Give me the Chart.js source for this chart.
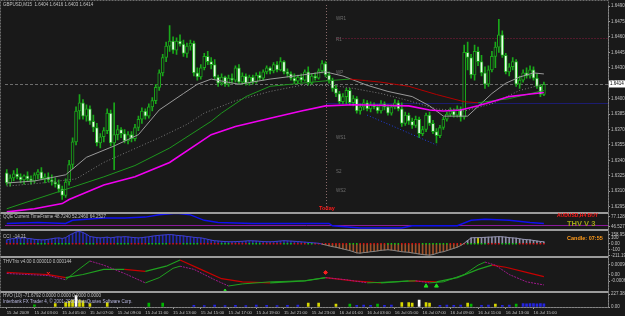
<!DOCTYPE html>
<html>
<head>
<meta charset="utf-8">
<title>GBPUSD M15</title>
<script src="https://cdn.jsdelivr.net/npm/chart.js@4.4.1/dist/chart.umd.min.js"></script>
<style>
  html, body { margin: 0; padding: 0; background: #191919; }
  #contenedor { width: 625px; height: 316px; }
</style>
</head>
<body>
<div id="contenedor"><canvas id="graficoVelas" width="625" height="316"></canvas></div>
<script>
// Velas GBPUSD M15, 15 Jul 01:00 -> 16 Jul 15:45
const simbolo = 'GBPUSD,M15';
const aperturas = [
  1.6328,1.6318,1.6323,1.6327,1.6324,1.6321,1.6325,1.6322,1.6320,1.6326,
  1.6329,1.6322,1.6324,1.6321,1.6319,1.6317,1.6312,1.6306,1.6319,1.6336,
  1.6358,1.6388,1.6396,1.6383,1.6390,1.6378,1.6372,1.6357,1.6363,1.6369,
  1.6386,1.6357,1.6365,1.6370,1.6366,1.6359,1.6365,1.6361,1.6372,1.6380,
  1.6388,1.6383,1.6392,1.6398,1.6411,1.6425,1.6440,1.6451,1.6456,1.6447,
  1.6456,1.6453,1.6444,1.6451,1.6454,1.6425,1.6421,1.6430,1.6441,1.6436,
  1.6433,1.6421,1.6415,1.6421,1.6414,1.6420,1.6418,1.6430,1.6416,1.6422,
  1.6415,1.6421,1.6416,1.6423,1.6420,1.6426,1.6430,1.6427,1.6433,1.6428,
  1.6436,1.6426,1.6424,1.6420,1.6417,1.6421,1.6418,1.6426,1.6415,1.6422,
  1.6420,1.6427,1.6434,1.6423,1.6418,1.6410,1.6405,1.6397,1.6402,1.6408,
  1.6396,1.6400,1.6388,1.6392,1.6396,1.6390,1.6394,1.6392,1.6388,1.6395,
  1.6392,1.6386,1.6392,1.6396,1.6390,1.6376,1.6384,1.6378,1.6374,1.6380,
  1.6366,1.6370,1.6384,1.6376,1.6368,1.6364,1.6372,1.6380,1.6385,1.6388,
  1.6384,1.6390,1.6382,1.6445,1.6440,1.6423,1.6446,1.6436,1.6425,1.6414,
  1.6428,1.6441,1.6450,1.6462,1.6442,1.6426,1.6431,1.6436,1.6414,1.6418,
  1.6425,1.6422,1.6428,1.6420,1.6412,1.6404
];
const maximos = [
  1.6331,1.6326,1.6330,1.6332,1.6327,1.6326,1.6329,1.6325,1.6328,1.6331,
  1.6333,1.6327,1.6328,1.6326,1.6323,1.6321,1.6315,1.6322,1.6340,1.6362,
  1.6392,1.6404,1.6399,1.6394,1.6393,1.6384,1.6376,1.6366,1.6372,1.6390,
  1.6389,1.6396,1.6374,1.6372,1.6370,1.6368,1.6368,1.6375,1.6383,1.6391,
  1.6390,1.6395,1.6401,1.6414,1.6428,1.6443,1.6455,1.6471,1.6460,1.6459,
  1.6462,1.6457,1.6454,1.6457,1.6456,1.6430,1.6433,1.6444,1.6446,1.6440,
  1.6438,1.6423,1.6424,1.6422,1.6423,1.6424,1.6432,1.6433,1.6425,1.6424,
  1.6423,1.6423,1.6425,1.6426,1.6428,1.6432,1.6431,1.6435,1.6436,1.6440,
  1.6437,1.6429,1.6426,1.6424,1.6423,1.6424,1.6428,1.6431,1.6424,1.6425,
  1.6429,1.6437,1.6436,1.6426,1.6420,1.6413,1.6407,1.6405,1.6410,1.6410,
  1.6403,1.6402,1.6395,1.6399,1.6398,1.6397,1.6396,1.6394,1.6398,1.6397,
  1.6394,1.6394,1.6399,1.6398,1.6396,1.6387,1.6386,1.6381,1.6383,1.6382,
  1.6373,1.6386,1.6387,1.6379,1.6371,1.6374,1.6382,1.6387,1.6391,1.6390,
  1.6393,1.6392,1.6452,1.6455,1.6443,1.6452,1.6450,1.6442,1.6431,1.6432,
  1.6446,1.6455,1.6477,1.6466,1.6444,1.6434,1.6440,1.6438,1.6422,1.6428,
  1.6430,1.6432,1.6431,1.6424,1.6414,1.6416
];
const minimos = [
  1.6316,1.6315,1.6320,1.6322,1.6318,1.6317,1.6320,1.6317,1.6318,1.6322,
  1.6321,1.6318,1.6319,1.6316,1.6314,1.6309,1.6302,1.6304,1.6316,1.6332,
  1.6355,1.6380,1.6380,1.6378,1.6375,1.6368,1.6354,1.6352,1.6358,1.6366,
  1.6354,1.6331,1.6360,1.6362,1.6357,1.6356,1.6358,1.6359,1.6369,1.6376,
  1.6380,1.6381,1.6388,1.6395,1.6408,1.6422,1.6436,1.6446,1.6444,1.6443,
  1.6451,1.6441,1.6440,1.6447,1.6422,1.6418,1.6419,1.6428,1.6433,1.6429,
  1.6419,1.6412,1.6413,1.6412,1.6412,1.6415,1.6416,1.6414,1.6414,1.6413,
  1.6413,1.6414,1.6415,1.6418,1.6418,1.6424,1.6424,1.6425,1.6426,1.6427,
  1.6424,1.6421,1.6418,1.6415,1.6415,1.6416,1.6417,1.6413,1.6414,1.6418,
  1.6419,1.6425,1.6421,1.6415,1.6407,1.6402,1.6395,1.6395,1.6395,1.6394,
  1.6393,1.6386,1.6385,1.6389,1.6388,1.6387,1.6390,1.6386,1.6386,1.6389,
  1.6384,1.6384,1.6390,1.6388,1.6373,1.6374,1.6375,1.6371,1.6372,1.6362,
  1.6364,1.6368,1.6374,1.6366,1.6357,1.6362,1.6370,1.6378,1.6383,1.6382,
  1.6382,1.6378,1.6380,1.6428,1.6420,1.6418,1.6432,1.6422,1.6410,1.6412,
  1.6426,1.6430,1.6445,1.6440,1.6424,1.6422,1.6428,1.6412,1.6410,1.6416,
  1.6420,1.6420,1.6418,1.6410,1.6402,1.6403
];
const cierres = [
  1.6318,1.6323,1.6327,1.6324,1.6321,1.6325,1.6322,1.6320,1.6326,1.6329,
  1.6322,1.6324,1.6321,1.6319,1.6317,1.6312,1.6306,1.6319,1.6336,1.6358,
  1.6388,1.6396,1.6383,1.6390,1.6378,1.6372,1.6357,1.6363,1.6369,1.6386,
  1.6357,1.6365,1.6370,1.6366,1.6359,1.6365,1.6361,1.6372,1.6380,1.6388,
  1.6383,1.6392,1.6398,1.6411,1.6425,1.6440,1.6451,1.6456,1.6447,1.6456,
  1.6453,1.6444,1.6451,1.6454,1.6425,1.6421,1.6430,1.6441,1.6436,1.6433,
  1.6421,1.6415,1.6421,1.6414,1.6420,1.6418,1.6430,1.6416,1.6422,1.6415,
  1.6421,1.6416,1.6423,1.6420,1.6426,1.6430,1.6427,1.6433,1.6428,1.6436,
  1.6426,1.6424,1.6420,1.6417,1.6421,1.6418,1.6426,1.6415,1.6422,1.6420,
  1.6427,1.6434,1.6423,1.6418,1.6410,1.6405,1.6397,1.6402,1.6408,1.6396,
  1.6400,1.6388,1.6392,1.6396,1.6390,1.6394,1.6392,1.6388,1.6395,1.6392,
  1.6386,1.6392,1.6396,1.6390,1.6376,1.6384,1.6378,1.6374,1.6380,1.6366,
  1.6370,1.6384,1.6376,1.6368,1.6364,1.6372,1.6380,1.6385,1.6388,1.6384,
  1.6390,1.6382,1.6445,1.6440,1.6423,1.6446,1.6436,1.6425,1.6414,1.6428,
  1.6441,1.6450,1.6462,1.6442,1.6426,1.6431,1.6436,1.6414,1.6418,1.6425,
  1.6422,1.6428,1.6420,1.6412,1.6404,1.6414
];

// Eje de tiempo: una etiqueta cada 8 velas (2 horas)
const etiquetasTiempo = [
  '15 Jul 2009','15 Jul 03:00','15 Jul 05:00','15 Jul 07:00','15 Jul 09:00',
  '15 Jul 11:00','15 Jul 13:00','15 Jul 15:00','15 Jul 17:00','15 Jul 19:00',
  '15 Jul 21:00','15 Jul 23:00','16 Jul 01:00','16 Jul 03:00','16 Jul 05:00',
  '16 Jul 07:00','16 Jul 09:00','16 Jul 11:00','16 Jul 13:00','16 Jul 15:00'
];
const pasoEtiquetas = 8;
const totalHuecos = 174;     // velas que caben en la ventana
const indiceHoy = 92;        // 16 Jul 00:00

// Eje de precios
const ticksPrecio = [1.6490,1.6475,1.6460,1.6445,1.6430,1.6415,1.6400,1.6385,1.6370,1.6355,1.6340,1.6325,1.6310,1.6295];

// Medias moviles (indice de vela / valor)
const mmLentaIdx = [0,8,16,18,28,37,47,59,66,76,85,92,100,116,122,126,131,136,141,145,150,155];
const mmLenta = [1.6290,1.6293,1.6298,1.6302,1.6316,1.6324,1.6338,1.6365,1.6373,1.6381,1.6388,1.6393,1.6394,1.6393,1.6389,1.6388,1.6389,1.6393,1.6398,1.6402,1.6404,1.6406];
const mmColorIdx = [0,9,19,28,37,47,59,62,69,76,82,91,99,108,116,124,132,136,145,155];
const mmColor = [1.6293,1.6303,1.6314,1.6324,1.6335,1.6352,1.6378,1.6386,1.6402,1.6412,1.6414,1.6417,1.6419,1.6416,1.6412,1.6404,1.6397,1.6396,1.6400,1.6408];
const gris1Idx = [0,8,17,23,31,38,44,51,55,59,67,76,83,92,97,104,110,117,122,126,133,140,144,148,152,155];
const gris1 = [1.6318,1.6320,1.6326,1.6343,1.6354,1.6365,1.6389,1.6405,1.6414,1.6419,1.6414,1.6419,1.6422,1.6426,1.6422,1.6413,1.6407,1.6402,1.6393,1.6383,1.6383,1.6405,1.6415,1.6421,1.6425,1.6424];
const gris2Idx = [0,10,20,28,36,44,52,57,66,76,85,94,100,108,116,124,132,140,148,155];
const gris2 = [1.6315,1.6318,1.6322,1.6338,1.6350,1.6362,1.6375,1.6386,1.6398,1.6407,1.6413,1.6413,1.6410,1.6405,1.6398,1.6390,1.6388,1.6395,1.6408,1.6414];
const tendenciaIdx = [104,124];
const tendencia = [1.6384,1.6355];

// Niveles y pivotes
const nivelR1 = 1.6459;
const nivelPivote = 1.6396;
const nombresPivote = ['WR1','R1','WP','WS1','S2','WS2'];
const valoresPivote = [1.6477,1.6457,1.6425,1.6362,1.6329,1.6310];

// QQE
const qqeIdx = [0,9,17,19,28,34,40,44,49,53,57,61,71,88,93,94,102,114,117,130,134,138,145,151,155];
const qqe = [56,59,56,66,73,73,76,83,88,83,66,59,56,56,56,49,42,42,49,49,66,69,66,59,56];
const qqeNivel = 50;
const qqeTicks = [77.1289,46.5271];

// CCI (una barra por vela)
const cci = [
  70,85,95,105,100,110, 95,90,80,75,70,72, 80,90,100,105,95,110,
  150,180,210,220,200,170, 130,120,110,105,112,118, 105,115,125,120,128,122,
  115,110,105,110,118,125, 135,145,150,155,160,165, 160,150,145,140,130,125,
  115,110,105,95,80,65, 55,50,45,40,38,36, 40,42,45,50,55,52,
  50,45,40,38,36,40, 45,50,55,52,48,45, 40,35,30,25,20,15,
  10,-5,-20,-35,-50,-60, -75,-90,-105,-120,-140,-160, -165,-155,-150,-140,-135,-125,
  -115,-110,-105,-110,-120,-130, -140,-145,-150,-160,-170,-180, -190,-195,-200,-190,-170,-150,
  -140,-120,-100,-80,-60,-30, 10,60,105,110,108,112, 115,118,120,125,127,125,
  118,110,105,100,90,80, 75,70,60,50,42,36
];
const cciDestacado = 136;
const cciTicks = [158.95,100,0,-100,-211.19];
// puntos rojo/verde sobre el cero (largo de tramo, color)
const cciTramos = [[4,'r'],[2,'g'],[3,'r'],[3,'g'],[2,'r'],[5,'g'],[4,'r'],[3,'g'],[6,'r'],[4,'g'],[5,'r'],[6,'g'],[4,'r'],[5,'g'],[6,'r'],[3,'g'],[5,'r'],[4,'g'],[6,'r'],[3,'g'],[4,'r'],[2,'g'],[10,'r'],[3,'g'],[8,'r'],[4,'g'],[6,'r'],[8,'g'],[5,'r'],[6,'g'],[4,'r'],[5,'g'],[8,'r']];

// THVTrix
const trixRapidaIdx = [0,6,12,17,20,24,28,34,40,44,48,50,54,60,64,68,76,86,92,98,104,112,118,122,126,132,136,138,141,145,150,155];
const trixRapida = [0.0001,0,-0.0001,-0.0005,0.0003,0.0013,0.0009,0.0001,-0.0008,-0.0003,0.0006,0.0008,0.0005,-0.0005,-0.0011,-0.0009,-0.0007,-0.0006,-0.0003,-0.0005,-0.0008,-0.0007,-0.0006,-0.0008,-0.0007,0,0.0009,0.0012,0.0009,0,-0.0007,-0.0010];
const trixLentaIdx = [0,6,12,17,22,28,34,40,46,50,56,62,68,76,86,92,100,108,116,124,130,136,140,144,150,155];
const trixLenta = [0.0002,0.0001,0,-0.0003,0,0.0005,0.0005,0.0003,0.0008,0.0014,0.0005,-0.0004,-0.0007,-0.0008,-0.0006,-0.0003,-0.0006,-0.0008,-0.0006,-0.0007,-0.0003,0.0005,0.0009,0.0007,0.0002,-0.0002];
const trixTicks = [0.000946,0,-0.000633];
const flechasIdx = [12,63,92,121,124];
const flechas = [0.0001,-0.0016,0.0002,-0.0011,-0.0011];
const flechasTipo = ['crossRot','triangle','star','triangle','triangle'];
const flechasColor = ['#ff2020','#20e020','#ff2020','#20e020','#20e020'];

// HVO
const hvoIdx = [8,14,17,18,19,20,21,22,24,29,41,45,54,57,60,63,66,69,72,75,78,81,84,87,90,95,99,101,103,105,107,109,111,114,116,117,119,121,122,125,127,129,131,133,134,137,139,141,143,145,147,149,150,151,152,153,154,155];
const hvo = [40,60,80,100,120,200,120,110,60,80,70,70,30,25,35,25,30,25,35,30,25,30,35,70,70,50,50,30,35,30,50,30,35,80,80,70,120,80,70,30,35,30,35,70,50,30,35,50,30,35,50,60,55,60,60,55,60,55];
const hvoTipo = 'gyyyywyyyy' + 'ggbbbbbbbb' + 'bbbyyygbbb' + 'gbbyyywyyb' + 'bbbygbbybb' + 'gbbbbbbb';
const hvoTicks = [227.385,0];

const coloresHvo = { y: '#d8d800', g: '#00b400', b: '#2424e0', w: '#ffffff' };
const fuente = '"Liberation Sans", Arial, sans-serif';
const verdeVela = '#1aa81a';

Chart.defaults.font.family = fuente;
Chart.defaults.font.size = 4.5;
Chart.defaults.color = '#c0c0c0';

const puntos = (idx, vals) => idx.map((i, k) => ({ x: i, y: vals[k] }));
const categorias = Array.from({ length: totalHuecos }, (_, i) => i);

// puntos del cero del CCI
const cciPuntosColor = [];
cciTramos.forEach(([n, c]) => { for (let k = 0; k < n; k++) cciPuntosColor.push(c === 'r' ? '#d81010' : '#10c810'); });
const cciCeros = cci.map(() => 0);

function ejeDerecho(peso, min, max, valores, formato) {
    return {
        type: 'linear', position: 'right', stack: 'paneles', stackWeight: peso,
        min: min, max: max,
        grid: { display: true, drawOnChartArea: false, drawTicks: true, tickLength: 2, color: '#9c9c9c' },
        border: { display: true, color: '#9c9c9c' },
        ticks: { autoSkip: false, padding: 1, color: '#c0c0c0', font: { size: 4.5 }, callback: formato },
        afterBuildTicks: eje => { eje.ticks = valores.map(v => ({ value: v })); },
        afterFit: eje => { eje.width = 17; eje.paddingTop = 0; eje.paddingBottom = 0; }
    };
}

function linea(ctx, x1, y1, x2, y2, color, guion) {
    ctx.strokeStyle = color;
    ctx.setLineDash(guion);
    ctx.beginPath();
    ctx.moveTo(x1, y1);
    ctx.lineTo(x2, y2);
    ctx.stroke();
}

function texto(ctx, s, x, y, color, size, negrita) {
    ctx.font = (negrita ? 'bold ' : '') + size + 'px ' + fuente;
    ctx.fillStyle = color;
    ctx.textBaseline = 'middle';
    ctx.textAlign = 'left';
    ctx.fillText(s, x, y);
}

// Lineas, niveles y textos que MetaTrader dibuja encima del grafico
const anotaciones = {
    id: 'anotaciones',
    beforeDatasetsDraw(chart) {
        const { ctx, chartArea, scales } = chart;
        const ejeY = scales.y;
        const xHoy = Math.round(scales.x.getPixelForValue(indiceHoy)) + 0.5;
        const yPrecio = Math.round(ejeY.getPixelForValue(cierres[cierres.length - 1])) + 0.5;
        const yR1 = Math.round(ejeY.getPixelForValue(nivelR1)) + 0.5;
        const yPiv = Math.round(ejeY.getPixelForValue(nivelPivote)) + 0.5;
        const yQqe = Math.round(scales.yQqe.getPixelForValue(qqeNivel)) + 0.5;
        ctx.save();
        ctx.lineWidth = 1;
        linea(ctx, chartArea.left, yPrecio, chartArea.right, yPrecio, '#6c6c6c', [3, 2]);
        linea(ctx, xHoy + 10, yR1, chartArea.right, yR1, '#8c1c40', [1, 2]);
        linea(ctx, xHoy, yPiv, chartArea.right, yPiv, '#2020c8', [1, 1]);
        linea(ctx, xHoy, ejeY.top, xHoy, ejeY.bottom, '#8a6a6a', [1, 2]);
        linea(ctx, chartArea.left, yQqe, chartArea.right, yQqe, '#8a1a9a', []);
        ctx.restore();
    },
    afterDraw(chart) {
        const { ctx, chartArea, scales } = chart;
        const ejeY = scales.y;
        const xHoy = Math.round(scales.x.getPixelForValue(indiceHoy));
        ctx.save();
        // separadores de ventanas
        ctx.fillStyle = '#9c9c9c';
        ['yQqe', 'yCci', 'yTrix', 'yHvo'].forEach(id => {
            ctx.fillRect(0, Math.round(scales[id].top) - 1, chartArea.right, 2);
        });
        ctx.fillRect(0, Math.round(chartArea.bottom), chartArea.right, 1);
        ctx.lineWidth = 1;
        ctx.strokeStyle = '#6c6c6c';
        ctx.setLineDash([2, 1]);
        ctx.strokeRect(0.5, 0.5, chartArea.right, chartArea.bottom);
        ctx.setLineDash([]);

        // cabecera
        const u = cierres.length - 1;
        const ohlc = [aperturas[u], maximos[u], minimos[u], cierres[u]].map(v => v.toFixed(4)).join(' ');
        texto(ctx, simbolo + '  ' + ohlc, 3, 5, '#c0c0c0', 4.5);

        // pivotes
        nombresPivote.forEach((n, k) => {
            texto(ctx, n, xHoy + 10, Math.round(ejeY.getPixelForValue(valoresPivote[k])), '#6e6e6e', 4.5);
        });
        texto(ctx, 'Today', xHoy - 7, ejeY.bottom - 4, '#ff1a1a', 5.5, true);

        // ventanas de indicadores
        const q = scales.yQqe, c = scales.yCci, t = scales.yTrix, h = scales.yHvo;
        texto(ctx, 'QQE Current TimeFrame 48.7240 52.2460 64.2527', 3, q.top + 4, '#c0c0c0', 4.5);
        texto(ctx, 'AUDUSD,H4 BUY', 557, q.top + 3.5, '#ff1a1a', 5, true);
        texto(ctx, 'THV V 3', 567, q.top + 11, '#a0a018', 7.5, true);
        texto(ctx, 'CCI  -14.21', 3, c.top + 6, '#c0c0c0', 4.5);
        texto(ctx, 'Candle: 07:55', 567, c.top + 8, '#ff9a1a', 5.5, true);
        texto(ctx, 'THVTrix v4.00 0.000010 0.000144', 3, t.top + 5, '#c0c0c0', 4.5);
        texto(ctx, 'HVO (10) -71.6792 0.0000 0.0000 0.0000 0.0000', 3, h.top + 3.5, '#c0c0c0', 4.5);
        texto(ctx, 'Interbank FX Trader 4, \u00a9 2001-2009 MetaQuotes Software Corp.', 3, h.top + 9.5, '#b8b8e0', 4.5);

        // caja del precio actual
        const yPrecio = Math.round(ejeY.getPixelForValue(cierres[u]));
        ctx.fillStyle = '#ffffff';
        ctx.fillRect(chartArea.right + 1, yPrecio - 3.5, 17, 7);
        texto(ctx, cierres[u].toFixed(4), chartArea.right + 2, yPrecio, '#000000', 4.5);
        ctx.restore();
    }
};

const ctx = document.getElementById('graficoVelas');

const config = {
    data: {
        labels: categorias,
        datasets: [
            { type: 'line', yAxisID: 'y', data: puntos(mmLentaIdx, mmLenta), borderColor: '#f000f0', borderWidth: 1.6, pointRadius: 0 },
            {
                type: 'line', yAxisID: 'y', data: puntos(mmColorIdx, mmColor), borderWidth: 1, pointRadius: 0,
                borderColor: '#1e9e1e',
                segment: { borderColor: s => s.p1.parsed.y >= s.p0.parsed.y ? '#1e961e' : '#b40000' }
            },
            { type: 'line', yAxisID: 'y', data: puntos(gris1Idx, gris1), borderColor: '#9a9a9a', borderWidth: 1, pointRadius: 0 },
            { type: 'line', yAxisID: 'y', data: puntos(gris2Idx, gris2), borderColor: '#7c7c7c', borderWidth: 1, borderDash: [1, 2], pointRadius: 0 },
            { type: 'line', yAxisID: 'y', data: puntos(tendenciaIdx, tendencia), borderColor: '#2040e0', borderWidth: 1, borderDash: [1, 2], pointRadius: 0 },
            {
                type: 'bar', yAxisID: 'y', grouped: false, barThickness: 3,
                data: aperturas.map((a, i) => [a, cierres[i]]),
                backgroundColor: aperturas.map((a, i) => cierres[i] >= a ? '#191919' : '#eaffea'),
                borderColor: verdeVela, borderWidth: 1, borderSkipped: false
            },
            {
                type: 'bar', yAxisID: 'y', grouped: false, barThickness: 1,
                data: maximos.map((m, i) => [minimos[i], m]),
                backgroundColor: verdeVela
            },
            { type: 'line', yAxisID: 'yQqe', data: puntos(qqeIdx, qqe), borderColor: '#1010f0', borderWidth: 1.4, pointRadius: 0 },
            {
                type: 'line', yAxisID: 'yCci', data: cci, borderWidth: 1, pointRadius: 0, borderColor: '#4040c8',
                segment: { borderColor: s => s.p0.parsed.y < 0 ? '#868686' : (s.p0.parsed.x < indiceHoy ? '#4040c8' : '#9494ae') }
            },
            {
                type: 'line', yAxisID: 'yCci', data: cciCeros, showLine: false, pointStyle: 'rect',
                pointRadius: 1.1, pointBorderWidth: 0, pointBackgroundColor: cciPuntosColor
            },
            {
                type: 'bar', yAxisID: 'yCci', grouped: false, barThickness: 1, data: cci,
                backgroundColor: cci.map((v, i) => i === cciDestacado ? '#e0e000' : (v < 0 ? '#a0522a' : (i < indiceHoy ? '#2228b0' : '#8e8ea8')))
            },
            {
                type: 'line', yAxisID: 'yTrix', data: puntos(trixRapidaIdx, trixRapida), borderWidth: 1, pointRadius: 0,
                borderColor: '#20a020',
                segment: {
                    borderColor: s => s.p1.parsed.y >= s.p0.parsed.y ? '#20a020' : '#a01a8c',
                    borderDash: s => s.p1.parsed.y >= s.p0.parsed.y ? [] : [2, 1]
                }
            },
            {
                type: 'line', yAxisID: 'yTrix', data: puntos(trixLentaIdx, trixLenta), borderWidth: 1.2, pointRadius: 0,
                borderColor: '#20a020',
                segment: { borderColor: s => s.p1.parsed.y >= s.p0.parsed.y ? '#20a020' : '#c80000' }
            },
            {
                type: 'line', yAxisID: 'yTrix', data: puntos(flechasIdx, flechas), showLine: false,
                pointStyle: flechasTipo, pointRadius: 2.2, pointBorderWidth: 1,
                pointBackgroundColor: flechasColor, pointBorderColor: flechasColor
            },
            {
                type: 'bar', yAxisID: 'yHvo', grouped: false, barThickness: 2, data: puntos(hvoIdx, hvo),
                backgroundColor: hvoIdx.map((_, k) => coloresHvo[hvoTipo[k]])
            }
        ]
    },
    options: {
        responsive: false,
        animation: false,
        devicePixelRatio: 1,
        layout: { padding: 0 },
        plugins: { legend: { display: false }, tooltip: { enabled: false } },
        scales: {
            x: {
                type: 'category', offset: true, position: 'bottom',
                grid: { display: true, drawOnChartArea: false, drawTicks: true, tickLength: 2, color: '#9c9c9c', offset: false },
                border: { display: true, color: '#9c9c9c' },
                ticks: {
                    autoSkip: false, maxRotation: 0, minRotation: 0, align: 'start', padding: 1,
                    color: '#c0c0c0', font: { size: 4.3 },
                    callback: v => etiquetasTiempo[v / pasoEtiquetas]
                },
                afterBuildTicks: eje => {
                    eje.ticks = eje.ticks.filter(t => t.value % pasoEtiquetas === 0 && t.value / pasoEtiquetas < etiquetasTiempo.length);
                },
                afterFit: eje => { eje.height = 9; eje.paddingLeft = 0; eje.paddingRight = 0; }
            },
            y: ejeDerecho(211, 1.62893, 1.64910, ticksPrecio, v => v.toFixed(4)),
            yQqe: ejeDerecho(18, 35, 90, qqeTicks, v => v.toFixed(4)),
            yCci: ejeDerecho(27, -230, 240, cciTicks, v => v === 0 ? '0.00' : String(v)),
            yTrix: ejeDerecho(36, -0.0017, 0.0017, trixTicks, v => v === 0 ? '0.00' : v.toFixed(6)),
            yHvo: ejeDerecho(15, 0, 260, hvoTicks, v => v === 0 ? '0.00' : String(v))
        }
    },
    plugins: [anotaciones]
};

const graficoVelas = new Chart(ctx, config);
</script>
</body>
</html>
